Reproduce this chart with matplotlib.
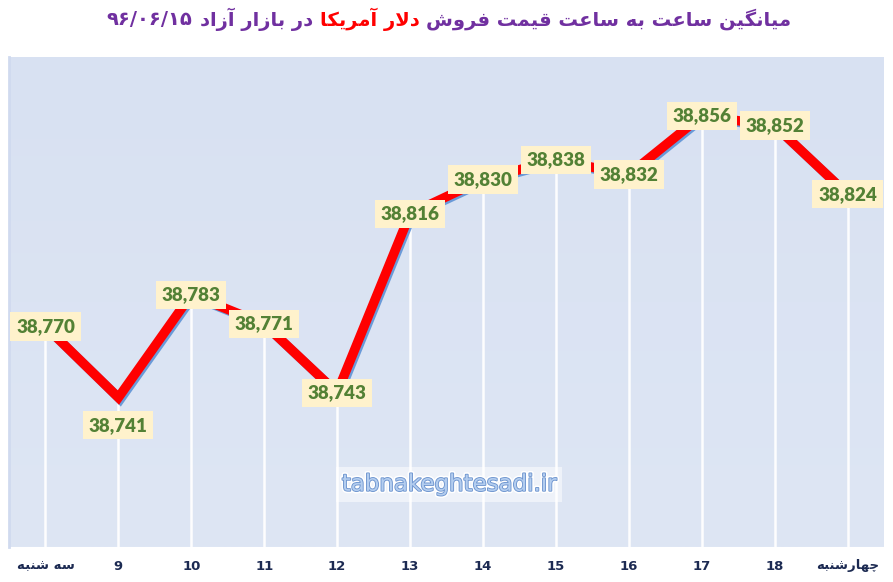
import numpy as np
import matplotlib
matplotlib.use('Agg')
import matplotlib.pyplot as plt
import matplotlib.patheffects as pe
from matplotlib.offsetbox import TextArea, HPacker, AnchoredOffsetbox
from matplotlib.colors import LinearSegmentedColormap

# ---------------- data ----------------
categories = ['سه شنبه', '9', '10', '11', '12', '13', '14', '15', '16', '17', '18', 'چهارشنبه']
prices = [38770, 38741, 38783, 38771, 38743, 38816, 38830, 38838, 38832, 38856, 38852, 38824]
label_below = [False, True, False, False, False, False, False, False, False, False, False, False]
title_parts = [('میانگین ساعت به ساعت قیمت فروش', '#7030a0'),
               ('دلار آمریکا', '#ff0000'),
               ('در بازار آزاد', '#7030a0'),
               ('۹۶/۰۶/۱۵', '#7030a0')]
watermark = 'tabnakeghtesadi.ir'
y_min, y_max = 38680, 38880

# ---------------- minimal Persian shaping ----------------
# forms: (isolated, final, initial, medial); 2-tuple => right-joining only
FORMS = {
    'ا': (0xFE8D, 0xFE8E), 'آ': (0xFE81, 0xFE82), 'د': (0xFEA9, 0xFEAA),
    'ر': (0xFEAD, 0xFEAE), 'ز': (0xFEAF, 0xFEB0), 'و': (0xFEED, 0xFEEE),
    'ب': (0xFE8F, 0xFE90, 0xFE91, 0xFE92), 'ت': (0xFE95, 0xFE96, 0xFE97, 0xFE98),
    'س': (0xFEB1, 0xFEB2, 0xFEB3, 0xFEB4), 'ش': (0xFEB5, 0xFEB6, 0xFEB7, 0xFEB8),
    'ع': (0xFEC9, 0xFECA, 0xFECB, 0xFECC), 'ف': (0xFED1, 0xFED2, 0xFED3, 0xFED4),
    'ق': (0xFED5, 0xFED6, 0xFED7, 0xFED8), 'ل': (0xFEDD, 0xFEDE, 0xFEDF, 0xFEE0),
    'م': (0xFEE1, 0xFEE2, 0xFEE3, 0xFEE4), 'ن': (0xFEE5, 0xFEE6, 0xFEE7, 0xFEE8),
    'ه': (0xFEE9, 0xFEEA, 0xFEEB, 0xFEEC), 'ک': (0xFB8E, 0xFB8F, 0xFB90, 0xFB91),
    'گ': (0xFB92, 0xFB93, 0xFB94, 0xFB95), 'ی': (0xFBFC, 0xFBFD, 0xFBFE, 0xFBFF),
    'چ': (0xFB7A, 0xFB7B, 0xFB7C, 0xFB7D),
}
LAM_ALEF = {'ا': (0xFEFB, 0xFEFC), 'آ': (0xFEF5, 0xFEF6)}


def shape(text):
    chars = list(text)
    out = []
    i = 0
    n = len(chars)
    while i < n:
        c = chars[i]
        if c not in FORMS:
            out.append(c)
            i += 1
            continue
        prev = chars[i - 1] if i > 0 else None
        jp = prev in FORMS and len(FORMS[prev]) == 4
        nxt = chars[i + 1] if i + 1 < n else None
        if c == 'ل' and nxt in LAM_ALEF:
            out.append(chr(LAM_ALEF[nxt][1 if jp else 0]))
            i += 2
            continue
        f = FORMS[c]
        jn = len(f) == 4 and nxt in FORMS
        if jp and jn:
            out.append(chr(f[3]))
        elif jp:
            out.append(chr(f[1]))
        elif jn:
            out.append(chr(f[2]))
        else:
            out.append(chr(f[0]))
        i += 1
    return ''.join(out)


def visual(text):
    if any(ch in FORMS for ch in text):
        return shape(text)[::-1]
    return text

# ---------------- figure ----------------
fig = plt.figure(figsize=(8.93, 5.82), dpi=100)
fig.patch.set_facecolor('white')
ax = fig.add_axes([9 / 893, 35 / 582, 875 / 893, 490 / 582])

x = np.arange(len(prices))
ax.set_xlim(-0.5, len(prices) - 0.5)
ax.set_ylim(y_min, y_max)

# background gradient
cmap = LinearSegmentedColormap.from_list('bg', ['#dee6f4', '#d8e1f2'])
ax.imshow(np.linspace(0, 1, 256).reshape(-1, 1), aspect='auto', cmap=cmap,
          extent=[-0.5, len(prices) - 0.5, y_min, y_max], origin='lower', zorder=0)

# drop lines
ax.vlines(x, y_min, prices, colors='white', linewidth=1.8, alpha=0.95, zorder=1)

# main line with shadow
ax.plot(x, prices, color='#ff0000', linewidth=6.8, solid_joinstyle='miter',
        solid_capstyle='butt', zorder=3,
        path_effects=[pe.SimpleLineShadow(offset=(1.3, -1.3), shadow_color='#6a9ad8', alpha=1.0),
                      pe.Normal()])

# data labels
for xi, v, b in zip(x, prices, label_below):
    ax.annotate(f'{v:,}', (xi, v), xytext=(0, -20 if b else 0), textcoords='offset points',
                ha='center', va='center', fontsize=13.5, fontweight='heavy', family='Lato',
                color='#538135', zorder=5,
                bbox=dict(boxstyle='square,pad=0.3', facecolor='#fff2cc', edgecolor='none'))

# watermark
ax.text(0.503, 0.128, watermark, transform=ax.transAxes, ha='center', va='center',
        fontsize=16.5, color='#b3cdef', zorder=2,
        bbox=dict(boxstyle='square,pad=0.25', facecolor='white', alpha=0.5, edgecolor='none'),
        path_effects=[pe.Stroke(linewidth=3.5, foreground='white'),
                      pe.Stroke(linewidth=1.3, foreground='#6e95cf'), pe.Normal()])

# axes styling
for s in ['top', 'right', 'bottom']:
    ax.spines[s].set_visible(False)
ax.spines['left'].set_color('#d0daef')
ax.spines['left'].set_linewidth(2.0)
ax.set_yticks([])
ax.set_xticks(x)
ax.set_xticklabels([visual(c) for c in categories], fontsize=9.5, fontweight='bold',
                   color='#1c2a52', family='DejaVu Sans')
ax.tick_params(axis='x', length=0, pad=9)

# title (visual order left to right)
children = []
for txt, col in reversed(title_parts):
    children.append(TextArea(visual(txt), textprops=dict(color=col, fontsize=14, fontweight='bold',
                                                        family='DejaVu Sans')))
pack = HPacker(children=children, align='center', pad=0, sep=5)
box = AnchoredOffsetbox(loc='center', child=pack, bbox_to_anchor=(0.503, 0.967),
                        bbox_transform=fig.transFigure, frameon=False, pad=0, borderpad=0)
fig.add_artist(box)

fig.savefig('out.png', dpi=100, facecolor='white')
